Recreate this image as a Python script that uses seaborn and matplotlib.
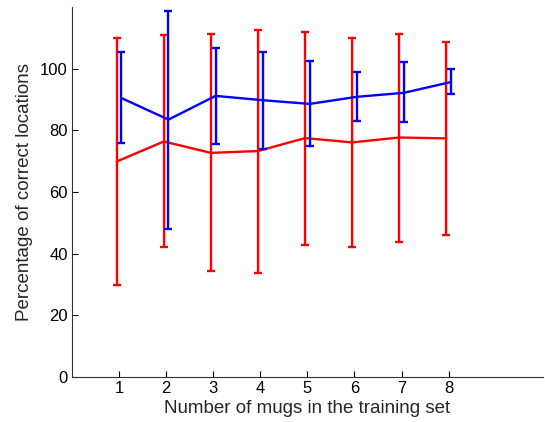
import numpy as np
import pandas as pd
import matplotlib
matplotlib.use('Agg')
import matplotlib.pyplot as plt
import seaborn as sns

# Values
n_mugs = [1, 2, 3, 4, 5, 6, 7, 8]

blue_mean = [90.5, 83.5, 91.2, 89.8, 88.6, 90.9, 92.2, 95.7]
blue_low = [75.8, 48.0, 75.7, 74.1, 74.8, 83.1, 82.6, 91.7]
blue_high = [105.3, 118.8, 106.7, 105.4, 102.6, 99.0, 102.1, 99.9]

red_mean = [69.9, 76.4, 72.7, 73.3, 77.5, 76.1, 77.7, 77.4]
red_low = [29.8, 42.2, 34.2, 33.6, 42.8, 42.0, 43.9, 46.2]
red_high = [110.0, 110.9, 111.4, 112.7, 112.0, 110.0, 111.4, 108.7]

sns.set_style('ticks')
plt.rcParams['font.family'] = ['Liberation Sans', 'DejaVu Sans']

fig = plt.figure(figsize=(5.45, 4.22), dpi=100)
ax = fig.add_axes([0.132, 0.107, 0.864, 0.876])

series = [
    ('red', red_mean, red_low, red_high, -0.05),
    ('blue', blue_mean, blue_low, blue_high, 0.05),
]

for color, mean, low, high, shift in series:
    x = np.array(n_mugs) + shift
    m = np.array(mean)
    df = pd.DataFrame({'x': x, 'y': m})
    sns.lineplot(data=df, x='x', y='y', color=color, linewidth=1.7, ax=ax)
    yerr = [m - np.array(low), np.array(high) - m]
    ax.errorbar(x, m, yerr=yerr, fmt='none', ecolor=color,
                elinewidth=1.7, capsize=3, capthick=1.7)

ax.set_xlim(0, 10)
ax.set_ylim(0, 120)
ax.set_xticks(n_mugs)
ax.set_yticks([0, 20, 40, 60, 80, 100])
ax.tick_params(direction='in', labelsize=12, length=4, width=0.8,
               colors='black', pad=3)
for s in ['left', 'bottom']:
    ax.spines[s].set_color('#333333')
    ax.spines[s].set_linewidth(0.8)
sns.despine(ax=ax)

ax.set_xlabel('Number of mugs in the training set', fontsize=13.5, labelpad=3)
ax.set_ylabel('Percentage of correct locations', fontsize=13.5, labelpad=5)

fig.savefig('out.png', dpi=100)
